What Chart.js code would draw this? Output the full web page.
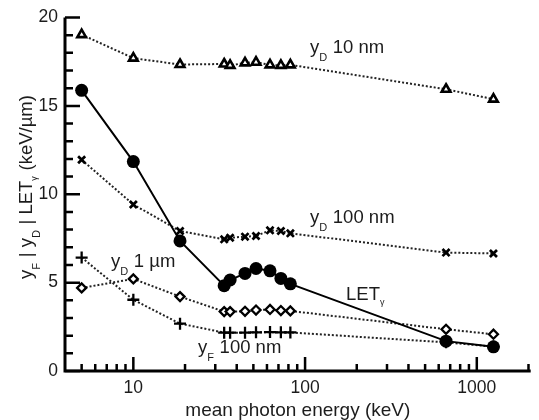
<!DOCTYPE html>
<html><head><meta charset="utf-8">
<script src="https://cdn.jsdelivr.net/npm/chart.js@4/dist/chart.umd.min.js"></script>
<style>html,body{margin:0;padding:0;background:#fff}#wrap{width:539px;height:420px}</style>
</head><body><div id="wrap"><canvas id="c" width="539" height="420"></canvas></div>
<script>
// ---- data ----
const energies  = [5, 10, 18.7, 33.8, 36.6, 44.7, 51.8, 62.5, 72.3, 82.1, 662, 1250];
const yD10nm    = [19.03, 17.70, 17.34, 17.37, 17.29, 17.43, 17.47, 17.32, 17.29, 17.32, 15.94, 15.38];
const yD100nm   = [11.95, 9.42, 7.92, 7.45, 7.54, 7.60, 7.64, 7.96, 7.92, 7.79, 6.70, 6.65];
const LETgamma  = [15.88, 11.85, 7.36, 4.83, 5.15, 5.52, 5.80, 5.67, 5.24, 4.93, 1.69, 1.37];
const yD1um     = [4.70, 5.21, 4.21, 3.36, 3.36, 3.38, 3.45, 3.48, 3.42, 3.40, 2.36, 2.08];
const yF100nm   = [6.42, 4.03, 2.68, 2.17, 2.17, 2.17, 2.19, 2.20, 2.19, 2.18, 1.62, 1.38];
const xMajorTicks = [10, 100, 1000];
const xMinorTicks = [5, 6, 7, 8, 9, 20, 30, 40, 50, 60, 70, 80, 90, 200, 300, 400, 500, 600, 700, 800, 900, 2000];
const yMajorTicks = [0, 5, 10, 15, 20];
const yMinorTicks = [1, 2, 3, 4, 6, 7, 8, 9, 11, 12, 13, 14, 16, 17, 18, 19];
const xTitle = 'mean photon energy (keV)';
const yTitleParts = [['y','m'],['F','s'],[' | y','m'],['D','s'],[' | LET','m'],['γ','g'],[' (keV/µm)','m']];
const seriesLabels = [
  {parts:[['y','m'],['D','s'],[' 10 nm','m']], x:310, y:53},
  {parts:[['y','m'],['D','s'],[' 100 nm','m']], x:310, y:223},
  {parts:[['y','m'],['D','s'],[' 1 µm','m']], x:111, y:267},
  {parts:[['LET','m'],['γ','g']], x:346, y:300},
  {parts:[['y','m'],['F','s'],[' 100 nm','m']], x:198, y:353}
];

const FAM = '"Liberation Sans", Arial, Helvetica, sans-serif';
const INK = '#1c1c1c';
const pts = arr => energies.map((e, i) => ({x: e, y: arr[i]}));

function drawParts(ctx, parts, x, y, mainSize) {
  let cx = x;
  for (const [t, k] of parts) {
    let size = mainSize, dy = 0;
    if (k === 's') { size = 11; dy = 8; }
    if (k === 'g') { size = 9; dy = 5; }
    ctx.font = size + 'px ' + FAM;
    ctx.fillText(t, cx, y + dy);
    cx += ctx.measureText(t).width + (k !== 'm' ? 0.5 : 0);
  }
}
function partsWidth(ctx, parts, mainSize) {
  let w = 0;
  for (const [t, k] of parts) {
    const size = k === 's' ? 11 : (k === 'g' ? 9 : mainSize);
    ctx.font = size + 'px ' + FAM;
    w += ctx.measureText(t).width + (k !== 'm' ? 0.5 : 0);
  }
  return w;
}

const decor = {
  id: 'decor',
  afterDraw(chart) {
    const ctx = chart.ctx, xs = chart.scales.x, ys = chart.scales.y, a = chart.chartArea;
    ctx.save();
    ctx.strokeStyle = '#000';
    ctx.lineCap = 'butt';
    // axes
    ctx.lineWidth = 3;
    ctx.beginPath();
    ctx.moveTo(a.left, ys.getPixelForValue(20));
    ctx.lineTo(a.left, a.bottom + 1.5);
    ctx.moveTo(a.left - 1.5, a.bottom);
    ctx.lineTo(a.right, a.bottom);
    ctx.stroke();
    // tick marks (inward)
    ctx.lineWidth = 2.5;
    ctx.beginPath();
    for (const v of xMajorTicks) { const p = xs.getPixelForValue(v); ctx.moveTo(p, a.bottom); ctx.lineTo(p, a.bottom - 14); }
    for (const v of xMinorTicks) { const p = xs.getPixelForValue(v); ctx.moveTo(p, a.bottom); ctx.lineTo(p, a.bottom - 7); }
    for (const v of yMajorTicks) { const p = ys.getPixelForValue(v); ctx.moveTo(a.left, p); ctx.lineTo(a.left + 15, p); }
    for (const v of yMinorTicks) { const p = ys.getPixelForValue(v); ctx.moveTo(a.left, p); ctx.lineTo(a.left + 8, p); }
    ctx.stroke();
    // texts
    ctx.fillStyle = INK;
    ctx.textBaseline = 'alphabetic';
    ctx.textAlign = 'left';
    for (const L of seriesLabels) drawParts(ctx, L.parts, L.x, L.y, 18.5);
    // x title
    ctx.font = '19px ' + FAM;
    ctx.textAlign = 'center';
    ctx.fillText(xTitle, (a.left + a.right) / 2, 416);
    // y title
    ctx.textAlign = 'left';
    ctx.save();
    ctx.translate(32, 187);
    ctx.rotate(-Math.PI / 2);
    const w = partsWidth(ctx, yTitleParts, 18.5);
    drawParts(ctx, yTitleParts, -w / 2, 0, 18.5);
    ctx.restore();
    ctx.restore();
  }
};

const dotted = {borderColor: '#222', borderWidth: 2, borderDash: [2, 2], pointBorderColor: '#000', pointBackgroundColor: '#fff', pointBorderWidth: 2.3, tension: 0, order: 1};

new Chart(document.getElementById('c'), {
  type: 'line',
  data: {
    datasets: [
      Object.assign({}, dotted, {label: 'yF 100 nm', data: pts(yF100nm), pointStyle: 'cross', pointRadius: 6, pointBorderWidth: 2.3}),
      Object.assign({}, dotted, {label: 'yD 1 µm', data: pts(yD1um), pointStyle: 'rectRot', pointRadius: 4.5}),
      Object.assign({}, dotted, {label: 'yD 100 nm', data: pts(yD100nm), pointStyle: 'crossRot', pointRadius: 5, pointBorderWidth: 2.7}),
      Object.assign({}, dotted, {label: 'yD 10 nm', data: pts(yD10nm), pointStyle: 'triangle', pointRadius: 5, pointBorderWidth: 2.6}),
      {label: 'LETγ', data: pts(LETgamma), borderColor: '#000', borderWidth: 2, pointStyle: 'circle', pointRadius: 6.5, pointBackgroundColor: '#000', pointBorderColor: '#000', pointBorderWidth: 0, tension: 0, order: 0}
    ]
  },
  options: {
    responsive: false,
    devicePixelRatio: 1,
    animation: false,
    layout: {padding: {top: 15, right: 0, bottom: 0, left: 0}},
    plugins: {legend: {display: false}, tooltip: {enabled: false}},
    scales: {
      x: {
        type: 'logarithmic', min: 4, max: 2060,
        grid: {display: false, drawTicks: false},
        border: {display: false},
        afterBuildTicks: s => { s.ticks = [...xMajorTicks, ...xMinorTicks].sort((p, q) => p - q).map(v => ({value: v})); },
        ticks: {autoSkip: false, maxRotation: 0, padding: 7, color: INK, font: {family: FAM, size: 17.5},
          callback: v => xMajorTicks.includes(v) ? String(v) : ''},
        afterFit: s => { s.height = 49; }
      },
      y: {
        min: 0, max: 20,
        grid: {display: false, drawTicks: false},
        border: {display: false},
        afterBuildTicks: s => { s.ticks = yMajorTicks.map(v => ({value: v})); },
        ticks: {padding: 7, color: INK, font: {family: FAM, size: 17.5}},
        afterFit: s => { s.width = 65; }
      }
    }
  },
  plugins: [decor]
});
</script>
</body></html>
